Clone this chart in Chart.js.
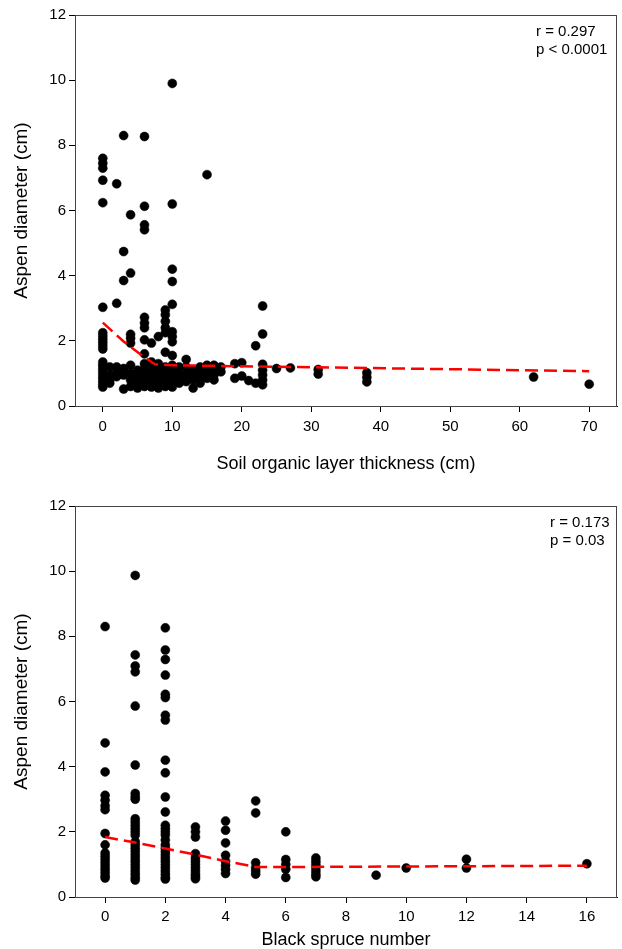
<!DOCTYPE html>
<html>
<head>
<meta charset="utf-8">
<script src="https://cdn.jsdelivr.net/npm/chart.js@4"></script>
<style>
  body { margin: 0; background: #fff; }
  canvas { display: block; }
</style>
</head>
<body>
<canvas id="chartSoil" width="622" height="480"></canvas>
<canvas id="chartSpruce" width="622" height="469"></canvas>
<script>
// soil organic layer thickness (cm) -> aspen diameters (cm) at that thickness
var soilDepth = [0, 1, 2, 3, 4, 5, 6, 7, 8, 9, 10, 11, 12, 13, 14, 15, 16, 17, 19, 20, 21, 22, 23, 25, 27, 31, 38, 62, 70];
var soilDiam = [
    [7.6, 7.45, 7.3, 6.93, 6.24, 3.03, 2.25, 2.15, 2.05, 1.95, 1.85, 1.75, 1.35, 1.25, 1.15, 1.05, 0.95, 0.85, 0.75, 0.65, 0.58],
    [1.2, 0.95, 0.8, 0.7],
    [6.82, 3.15, 1.2, 1.05, 0.9],
    [8.3, 4.74, 3.85, 1.15, 0.95, 0.52],
    [5.87, 4.08, 2.2, 2.08, 1.93, 1.25, 1.0, 0.8, 0.6],
    [1.1, 0.95, 0.85, 0.75, 0.62, 0.55],
    [8.27, 6.13, 5.56, 5.41, 2.72, 2.55, 2.4, 2.03, 1.6, 1.3, 1.15, 1.0, 0.9, 0.8, 0.7, 0.6],
    [1.93, 1.35, 1.15, 1.0, 0.9, 0.8, 0.7, 0.58],
    [2.13, 1.3, 1.1, 0.95, 0.85, 0.75, 0.65, 0.55],
    [2.95, 2.8, 2.6, 2.4, 2.25, 1.65, 1.2, 1.05, 0.9, 0.8, 0.7, 0.6],
    [9.9, 6.2, 4.2, 3.82, 3.12, 2.28, 2.13, 1.97, 1.55, 1.25, 1.1, 0.95, 0.85, 0.75, 0.58],
    [1.2, 1.0, 0.85, 0.7],
    [1.43, 1.2, 1.0, 0.85, 0.75],
    [1.1, 0.95, 0.8, 0.55],
    [1.2, 1.0, 0.85, 0.7],
    [7.1, 1.25, 1.1, 1.0, 0.85],
    [1.25, 1.1, 0.95, 0.8],
    [1.2, 1.05],
    [1.3, 0.85],
    [1.33, 0.92],
    [0.78],
    [1.85, 0.7],
    [3.07, 2.21, 1.28, 1.1, 0.95, 0.8, 0.65],
    [1.15],
    [1.17],
    [1.12, 0.98],
    [1.02, 0.88, 0.74],
    [0.89],
    [0.67]
];
var soilFitX = [0, 3, 5.5, 7.5, 10, 20, 33, 70];
var soilFitY = [2.56, 1.98, 1.57, 1.28, 1.25, 1.22, 1.18, 1.07];
var soilTicks = [0, 10, 20, 30, 40, 50, 60, 70];
var soilStats = ['r = 0.297', 'p < 0.0001'];

// black spruce number -> aspen diameters (cm)
var spruceCount = [0, 1, 2, 3, 4, 5, 6, 7, 9, 10, 12, 16];
var spruceDiam = [
    [8.3, 4.73, 3.84, 3.12, 2.97, 2.8, 2.68, 1.95, 1.6, 1.35, 1.25, 1.15, 1.05, 0.95, 0.85, 0.75, 0.65, 0.58],
    [9.87, 7.43, 7.09, 6.91, 5.86, 4.05, 3.18, 3.08, 3.0, 2.4, 2.3, 2.2, 2.1, 2.0, 1.9, 1.7, 1.6, 1.5, 1.4, 1.3, 1.2, 1.1, 1.0, 0.9, 0.8, 0.7, 0.6, 0.52],
    [8.26, 7.58, 7.29, 6.81, 6.22, 6.12, 5.58, 5.43, 4.2, 3.81, 3.07, 2.61, 2.2, 2.1, 2.0, 1.9, 1.75, 1.6, 1.5, 1.4, 1.3, 1.2, 1.1, 1.0, 0.9, 0.8, 0.7, 0.6, 0.55],
    [2.15, 2.0, 1.84, 1.33, 1.2, 1.1, 1.0, 0.9, 0.8, 0.7, 0.62, 0.56],
    [2.33, 2.05, 1.66, 1.28, 1.1, 0.97, 0.85, 0.72],
    [2.95, 2.58, 1.05, 0.9, 0.8, 0.7],
    [2.0, 1.15, 1.0, 0.85, 0.6],
    [1.2, 1.1, 1.0, 0.9, 0.8, 0.7, 0.62],
    [0.67],
    [0.89],
    [1.16, 0.89],
    [1.02]
];
var spruceFitX = [0, 1, 2, 3, 4, 5, 6, 16];
var spruceFitY = [1.84, 1.67, 1.49, 1.3, 1.1, 0.92, 0.92, 0.96];
var spruceTicks = [0, 2, 4, 6, 8, 10, 12, 14, 16];
var spruceStats = ['r = 0.173', 'p = 0.03'];

var diamTicks = [0, 2, 4, 6, 8, 10, 12];

(function(){

    'use strict'

    var FONT = 'Arial, "Liberation Sans", sans-serif';

    var helpers = {

        toPoints : function(xs, ys) {
            var pts = [];
            for (var i = 0; i < xs.length; i++) {
                for (var j = 0; j < ys[i].length; j++) {
                    pts.push({x: xs[i], y: ys[i][j]});
                }
            }
            return pts;
        } ,

        toLine : function(xs, ys) {
            return xs.map(function(x, i) { return {x: x, y: ys[i]}; });
        }
    };

    // frame round the plot area and the r/p text in the corner
    var framePlugin = {
        id: 'frame',
        beforeDatasetsDraw : function(chart) {
            var a = chart.chartArea, ctx = chart.ctx;
            ctx.save();
            ctx.strokeStyle = '#444';
            ctx.lineWidth = 1;
            ctx.strokeRect(a.left + 0.5, a.top + 0.5, a.right - a.left - 1, a.bottom - a.top);
            ctx.restore();
        } ,
        afterDraw : function(chart, args, opts) {
            var a = chart.chartArea, ctx = chart.ctx;
            ctx.save();
            ctx.fillStyle = '#000';
            ctx.font = '15px ' + FONT;
            ctx.textBaseline = 'middle';
            ctx.textAlign = 'left';
            opts.lines.forEach(function(t, i) {
                ctx.fillText(t, a.right - opts.dx, a.top + 17 + i * 18);
            });
            ctx.restore();
        }
    };

    var chartjs = {

        renderChart : function(chart) {
            var ctx = document.getElementById(chart.id).getContext('2d');

            new Chart(ctx, {
                type: 'scatter',
                data: {
                    datasets: [{
                        data: chart.points,
                        backgroundColor: '#000',
                        borderColor: '#000',
                        borderWidth: 0.5,
                        pointRadius: 4.5,
                        order: 2
                    }, {
                        type: 'line',
                        data: chart.fit,
                        borderColor: '#f00',
                        borderWidth: 2.5,
                        borderDash: [13, 6],
                        pointRadius: 0,
                        fill: false,
                        tension: 0,
                        order: 1
                    }]
                },
                options: {
                    responsive: false,
                    animation: false,
                    layout: { padding: { top: chart.padTop, right: 4, left: 0, bottom: 0 } },
                    plugins: {
                        legend: { display: false },
                        tooltip: { enabled: false },
                        frame: { lines: chart.stats, dx: chart.statsDx }
                    },
                    scales: {
                        x: {
                            type: 'linear',
                            min: chart.xMin,
                            max: chart.xMax,
                            afterBuildTicks: function(s) {
                                s.ticks = chart.xTicks.map(function(v) { return {value: v}; });
                            },
                            afterFit: function(s) { s.height = chart.xAxisH; },
                            grid: { drawOnChartArea: false, drawTicks: true, tickLength: 6, tickColor: '#000' },
                            border: { color: '#000', width: 1 },
                            ticks: { color: '#000', font: { family: FONT, size: 15 }, padding: chart.xTickPad, maxRotation: 0 },
                            title: {
                                display: true,
                                text: chart.xTitle,
                                color: '#000',
                                font: { family: FONT, size: 18, lineHeight: 1 },
                                padding: { top: 0, bottom: chart.xTitlePad }
                            }
                        },
                        y: {
                            min: 0,
                            max: 12,
                            afterBuildTicks: function(s) {
                                s.ticks = diamTicks.map(function(v) { return {value: v}; });
                            },
                            afterFit: function(s) { s.width = 75; },
                            grid: { drawOnChartArea: false, drawTicks: true, tickLength: 6, tickColor: '#000' },
                            border: { color: '#000', width: 1 },
                            ticks: { color: '#000', font: { family: FONT, size: 15 }, padding: 3 },
                            title: {
                                display: true,
                                text: 'Aspen diameter (cm)',
                                color: '#000',
                                font: { family: FONT, size: 19, lineHeight: 1 },
                                padding: { top: 12.5, bottom: 0 }
                            }
                        }
                    }
                },
                plugins: [framePlugin]
            });
        }
    };

    chartjs.renderChart({
        id: 'chartSoil',
        points: helpers.toPoints(soilDepth, soilDiam),
        fit: helpers.toLine(soilFitX, soilFitY),
        xMin: -4, xMax: 74,
        xTicks: soilTicks,
        xTitle: 'Soil organic layer thickness (cm)',
        stats: soilStats, statsDx: 81,
        padTop: 15, xAxisH: 74, xTickPad: 6, xTitlePad: 7
    });

    chartjs.renderChart({
        id: 'chartSpruce',
        points: helpers.toPoints(spruceCount, spruceDiam),
        fit: helpers.toLine(spruceFitX, spruceFitY),
        xMin: -1, xMax: 17,
        xTicks: spruceTicks,
        xTitle: 'Black spruce number',
        stats: spruceStats, statsDx: 67,
        padTop: 26, xAxisH: 52, xTickPad: 5, xTitlePad: 0
    });

})();
</script>
</body>
</html>
